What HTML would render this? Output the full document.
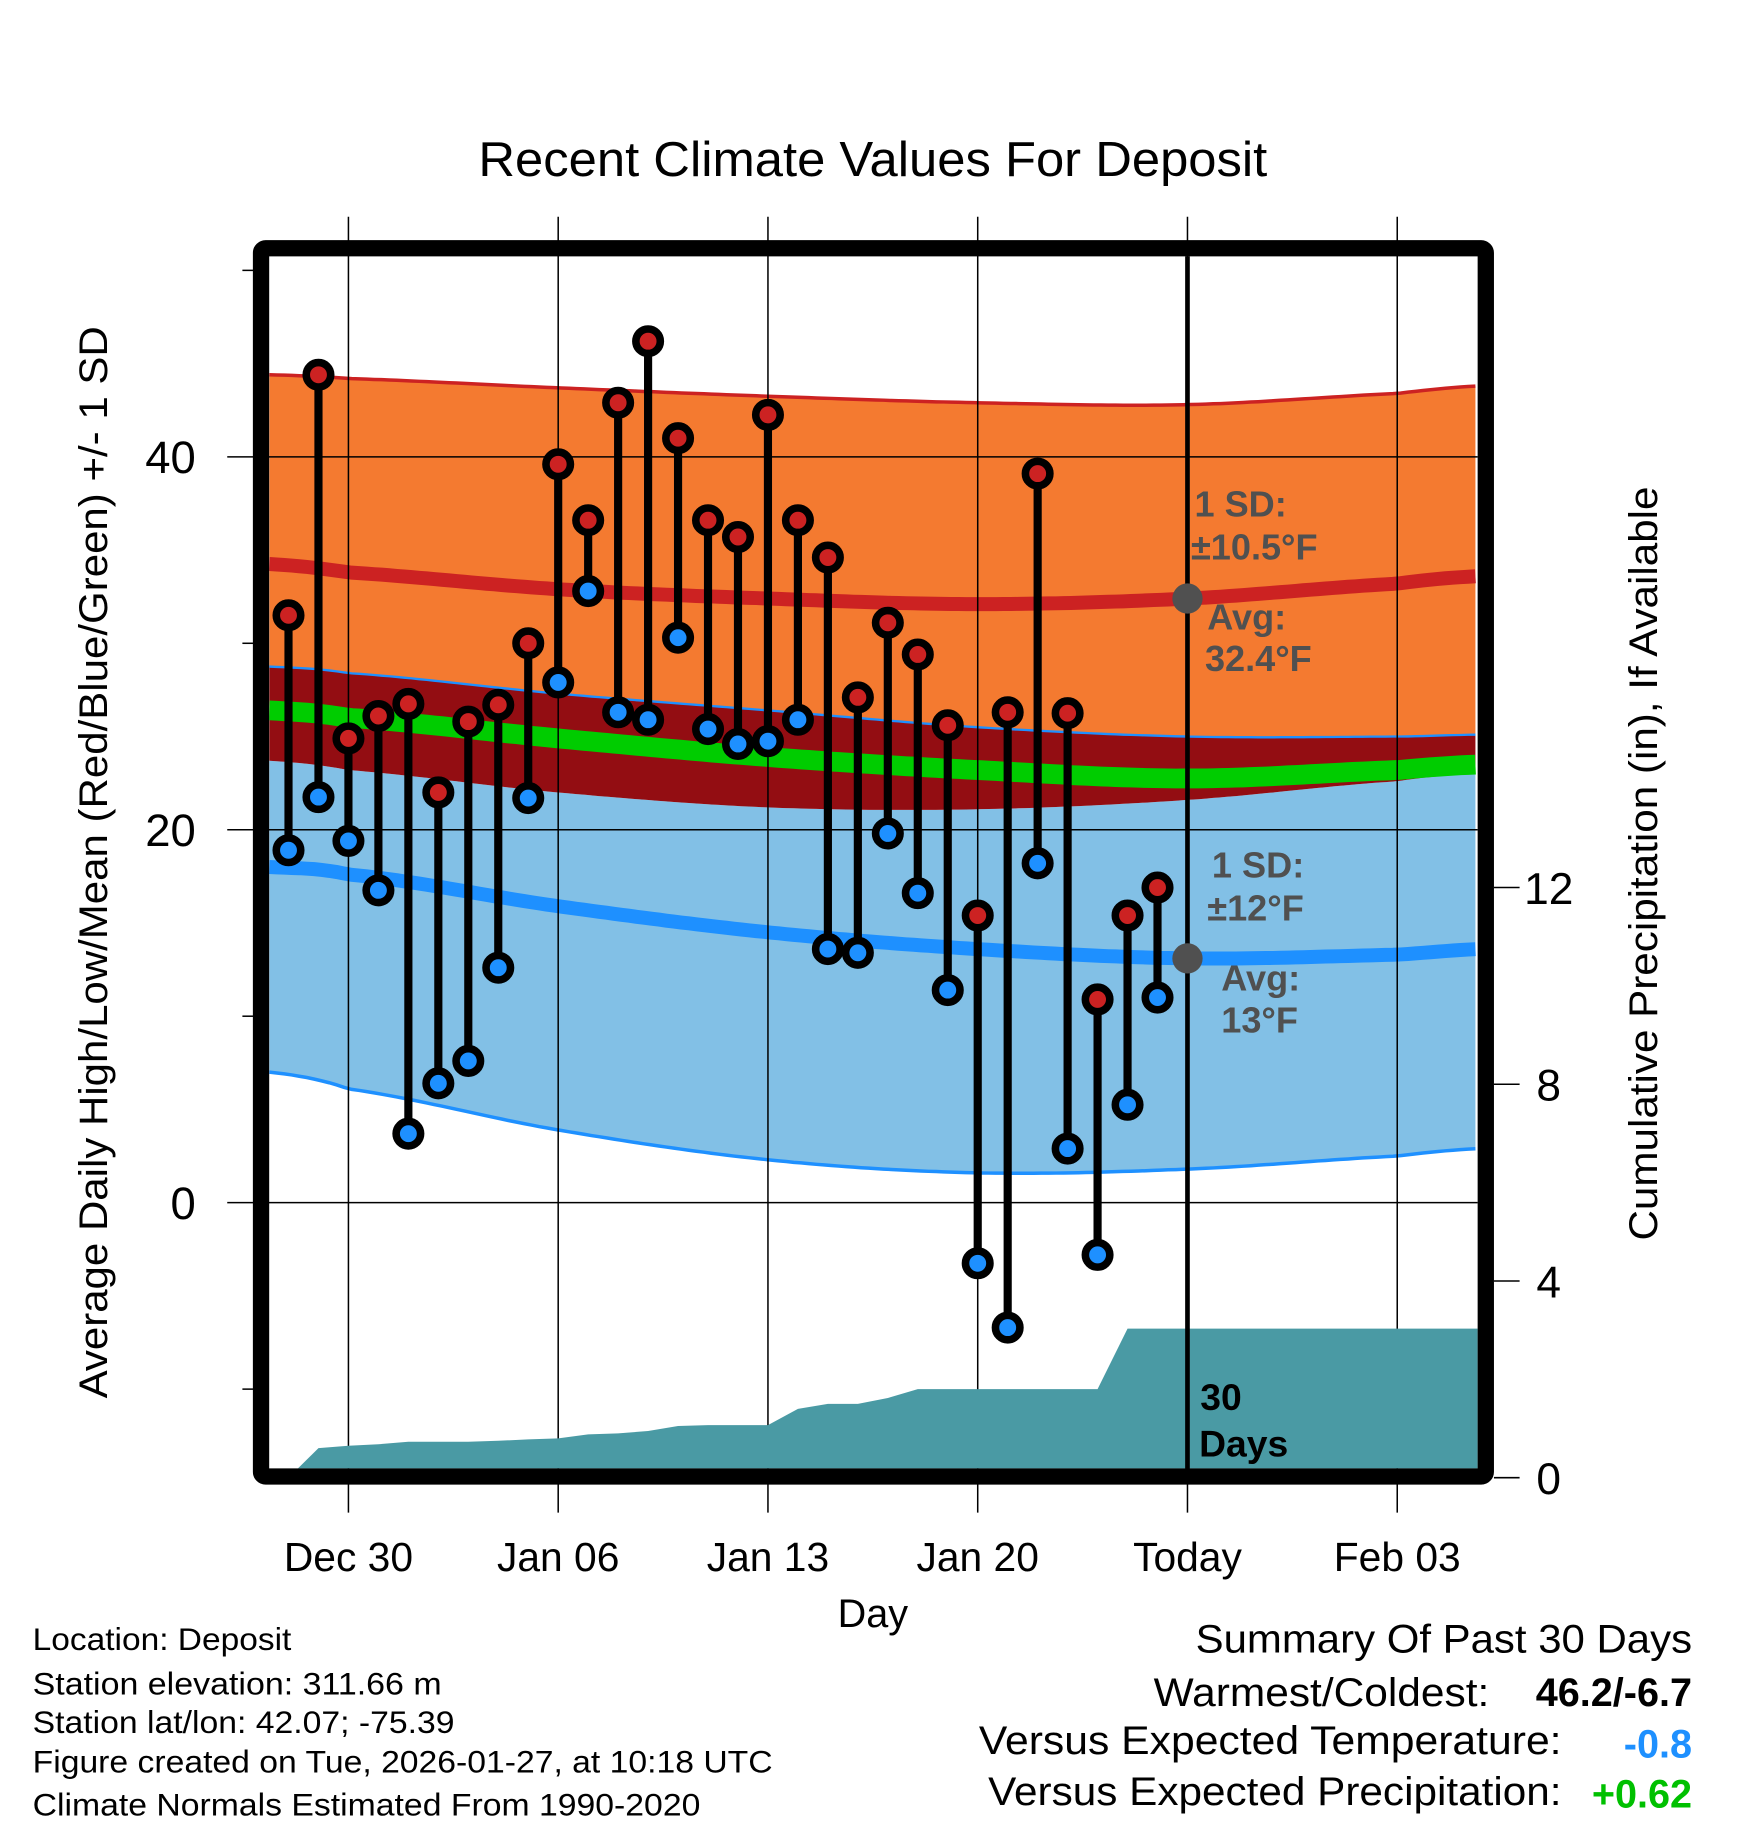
<!DOCTYPE html>
<html><head><meta charset="utf-8"><style>
html,body{margin:0;padding:0;background:#fff;}
svg{display:block;font-family:"Liberation Sans",Arial,sans-serif;}
</style></head><body>
<svg id="chart" width="1748" height="1828" viewBox="0 0 1500 1568.6" preserveAspectRatio="none" xmlns="http://www.w3.org/2000/svg">
<defs><clipPath id="plotclip"><rect x="231" y="220" width="1037" height="1040"/></clipPath></defs>
<text x="749" y="151" font-size="42" text-anchor="middle" textLength="677" lengthAdjust="spacingAndGlyphs">Recent Climate Values For Deposit</text>
<g id="bands" clip-path="url(#plotclip)"></g>
<g id="grid"></g>
<g id="precip" clip-path="url(#plotclip)"></g>
<g id="annot"></g>
<g id="marks"></g>
<rect x="224" y="213" width="1051" height="1054" rx="4" fill="none" stroke="#000" stroke-width="14"/>
<g id="axes"></g>
<text transform="translate(92,740) rotate(-90)" font-size="34" text-anchor="middle" textLength="920" lengthAdjust="spacingAndGlyphs">Average Daily High/Low/Mean (Red/Blue/Green) +/- 1 SD</text>
<text transform="translate(1422,741) rotate(-90)" font-size="34" text-anchor="middle" textLength="647" lengthAdjust="spacingAndGlyphs">Cumulative Precipitation (in), If Available</text>
<text x="749" y="1396" font-size="34" text-anchor="middle">Day</text>
<g font-size="27">
<text x="28" y="1416" textLength="222" lengthAdjust="spacingAndGlyphs">Location: Deposit</text>
<text x="28" y="1454" textLength="351" lengthAdjust="spacingAndGlyphs">Station elevation: 311.66 m</text>
<text x="28" y="1487" textLength="362" lengthAdjust="spacingAndGlyphs">Station lat/lon: 42.07; -75.39</text>
<text x="28" y="1521" textLength="635" lengthAdjust="spacingAndGlyphs">Figure created on Tue, 2026-01-27, at 10:18 UTC</text>
<text x="28" y="1558" textLength="573" lengthAdjust="spacingAndGlyphs">Climate Normals Estimated From 1990-2020</text>
</g>
<g font-size="34">
<text x="1452" y="1418" text-anchor="end" textLength="426" lengthAdjust="spacingAndGlyphs">Summary Of Past 30 Days</text>
<text x="1278" y="1464" text-anchor="end" textLength="288" lengthAdjust="spacingAndGlyphs">Warmest/Coldest:</text>
<text x="1452" y="1464" text-anchor="end" font-weight="bold">46.2/-6.7</text>
<text x="1340" y="1505" text-anchor="end" textLength="500" lengthAdjust="spacingAndGlyphs">Versus Expected Temperature:</text>
<text x="1452" y="1508" text-anchor="end" font-weight="bold" fill="#1e90ff">-0.8</text>
<text x="1340" y="1549" text-anchor="end" textLength="492" lengthAdjust="spacingAndGlyphs">Versus Expected Precipitation:</text>
<text x="1452" y="1551" text-anchor="end" font-weight="bold" fill="#00c000">+0.62</text>
</g>
</svg>
<script>
const NS="http://www.w3.org/2000/svg";
// days relative to Dec 30 (0)
const obsDays=[-2,-1,0,1,2,3,4,5,6,7,8,9,10,11,12,13,14,15,16,17,18,19,20,21,22,23,24,25,26,27];
const highs=[31.5,44.4,24.9,26.1,26.75,22,25.8,26.7,30,39.6,36.6,42.9,46.2,41,36.6,35.7,42.25,36.6,34.6,27.1,31.1,29.4,25.6,15.4,26.3,39.1,26.25,10.9,15.4,16.9];
const lows=[18.9,21.75,19.4,16.75,3.7,6.4,7.6,12.6,21.7,27.9,32.8,26.3,25.9,30.3,25.4,24.6,24.75,25.9,13.6,13.4,19.8,16.6,11.4,-3.25,-6.7,18.2,2.9,-2.8,5.25,11];
const precipCum=[0,0.6,0.65,0.68,0.73,0.73,0.73,0.75,0.78,0.8,0.88,0.9,0.95,1.05,1.07,1.07,1.07,1.4,1.5,1.5,1.62,1.8,1.8,1.8,1.8,1.8,1.8,1.8,3.03,3.03];
const normDays=[-2.64,0,7,14,21,28,35,37.7];
const highPlus=[44.4,44.2,43.7,43.25,42.9,42.8,43.4,43.8];
const highMean=[34.25,33.8,32.9,32.4,32.1,32.4,33.2,33.6];
const highMinus=[28.75,28.4,27.3,26.4,25.5,25,25,25.1];
const lowPlus=[23.7,23.2,22,21.2,21.1,21.6,22.6,23];
const lowMean=[18,17.6,15.9,14.5,13.6,13.1,13.3,13.6];
const lowMinus=[7,6.1,3.9,2.3,1.6,1.8,2.5,2.9];
const meanT=[26.4,26,24.9,23.9,23.2,22.75,23.2,23.5];
const xTickDays=[0,7,14,21,28,35];
const xTickLabels=["Dec 30","Jan 06","Jan 13","Jan 20","Today","Feb 03"];
const yTicks=[0,20,40];
const yMinor=[-10,10,30,50];
const y2Ticks=[0,4,8,12];
const todayDay=28;

const xS=d=>299+d*180/7;
const yS=t=>1032-16*t;
const y2S=p=>1268-42.2*p;
function mk(tag,attrs,parent){const e=document.createElementNS(NS,tag);for(const k in attrs)e.setAttribute(k,attrs[k]);parent.appendChild(e);return e;}
// monotone-ish smooth interpolation (Catmull-Rom) through normal sample points
function interp(arr,d){const n=normDays.length;let i=0;while(i<n-2&&d>normDays[i+1])i++;
const t=Math.max(0,Math.min(1,(d-normDays[i])/(normDays[i+1]-normDays[i])));
const p0=arr[Math.max(0,i-1)],p1=arr[i],p2=arr[i+1],p3=arr[Math.min(n-1,i+2)];
const t2=t*t,t3=t2*t;
return 0.5*((2*p1)+(-p0+p2)*t+(2*p0-5*p1+4*p2-p3)*t2+(-p0+3*p1-3*p2+p3)*t3);}
const samp=[];for(let d=normDays[0];d<=normDays[normDays.length-1]+0.001;d+=0.25)samp.push(d);
function linePts(arr){return samp.map(d=>xS(d).toFixed(1)+","+yS(interp(arr,d)).toFixed(1));}
function bandPts(a,b){return linePts(a).concat(linePts(b).reverse()).join(" ");}
const bands=document.getElementById('bands');
let e;
e=mk('polygon',{points:bandPts(highPlus,highMinus),fill:'#f47a30'},bands);

e=mk('polygon',{points:bandPts(lowPlus,lowMinus),fill:'#82c0e6'},bands);

e=mk('polygon',{points:bandPts(highMinus,lowPlus),fill:'#930d12'},bands);

e=mk('polyline',{points:linePts(highPlus).join(" "),fill:'none',stroke:'#cc2222','stroke-width':3},bands);

e=mk('polyline',{points:linePts(highMinus).join(" "),fill:'none',stroke:'#1e90ff','stroke-width':2},bands);

e=mk('polyline',{points:linePts(lowMinus).join(" "),fill:'none',stroke:'#1e90ff','stroke-width':3},bands);

e=mk('polyline',{points:linePts(meanT).join(" "),fill:'none',stroke:'#00cc00','stroke-width':17},bands);

e=mk('polyline',{points:linePts(highMean).join(" "),fill:'none',stroke:'#cc2222','stroke-width':12},bands);

e=mk('polyline',{points:linePts(lowMean).join(" "),fill:'none',stroke:'#1e90ff','stroke-width':12},bands);


const grid=document.getElementById('grid');
xTickDays.forEach(d=>{e=mk('line',{x1:xS(d),x2:xS(d),y1:186,y2:1298,stroke:'#000','stroke-width':1.3},grid);
});
yTicks.forEach(t=>{e=mk('line',{x1:195,x2:1268,y1:yS(t),y2:yS(t),stroke:'#000','stroke-width':1.3},grid);
});

const pg=document.getElementById('precip');
let pp=["231,1262"];
obsDays.forEach((d,i)=>pp.push(xS(d)+","+y2S(precipCum[i])));
pp.push("1270,"+y2S(precipCum[precipCum.length-1]));pp.push("1270,1262");
e=mk('polygon',{points:pp.join(" "),fill:'#4a9aa4'},pg);


const an=document.getElementById('annot');
e=mk('line',{x1:xS(todayDay),x2:xS(todayDay),y1:220,y2:1262,stroke:'#000','stroke-width':4},an);

const tx=xS(todayDay);
e=mk('circle',{cx:tx,cy:yS(interp(highMean,todayDay)),r:13,fill:'#505050'},an);

e=mk('circle',{cx:tx,cy:yS(interp(lowMean,todayDay)),r:13,fill:'#505050'},an);

const labels=[["1 SD:",1025,443],["±10.5°F",1022,480],["Avg:",1036,540],["32.4°F",1034,576],["1 SD:",1040,753],["±12°F",1036,790],["Avg:",1048,850],["13°F",1048,886]];
labels.forEach(l=>{e=mk('text',{x:l[1],y:l[2],'font-size':31,'font-weight':'bold',fill:'#505050'},an);e.textContent=l[0];
});
[["30",1030,1210],["Days",1029,1250]].forEach(l=>{e=mk('text',{x:l[1],y:l[2],'font-size':32,'font-weight':'bold',fill:'#000'},an);e.textContent=l[0];
});

const mg=document.getElementById('marks');
obsDays.forEach((d,i)=>{const x=xS(d);
e=mk('line',{x1:x,x2:x,y1:yS(highs[i]),y2:yS(lows[i]),stroke:'#000','stroke-width':7},mg);
});
obsDays.forEach((d,i)=>{const x=xS(d);
e=mk('circle',{cx:x,cy:yS(highs[i]),r:10.5,fill:'#cc2222',stroke:'#000','stroke-width':6.5},mg);

e=mk('circle',{cx:x,cy:yS(lows[i]),r:10.5,fill:'#1e90ff',stroke:'#000','stroke-width':6.5},mg);
});

const ax=document.getElementById('axes');
xTickDays.forEach((d,i)=>{e=mk('text',{x:xS(d),y:1348,'font-size':35,'text-anchor':'middle'},ax);e.textContent=xTickLabels[i];
});
yTicks.forEach(t=>{e=mk('text',{x:168,y:yS(t)+14,'font-size':39,'text-anchor':'end'},ax);e.textContent=String(t);
});
yMinor.forEach(t=>{e=mk('line',{x1:208,x2:218,y1:yS(t),y2:yS(t),stroke:'#000','stroke-width':1.3},ax);
});
y2Ticks.forEach(p=>{e=mk('line',{x1:1282,x2:1304,y1:y2S(p),y2:y2S(p),stroke:'#000','stroke-width':1.3},ax);

e=mk('text',{x:1329,y:y2S(p)+14,'font-size':38,'text-anchor':'middle'},ax);e.textContent=String(p);
});
</script>
</body></html>
